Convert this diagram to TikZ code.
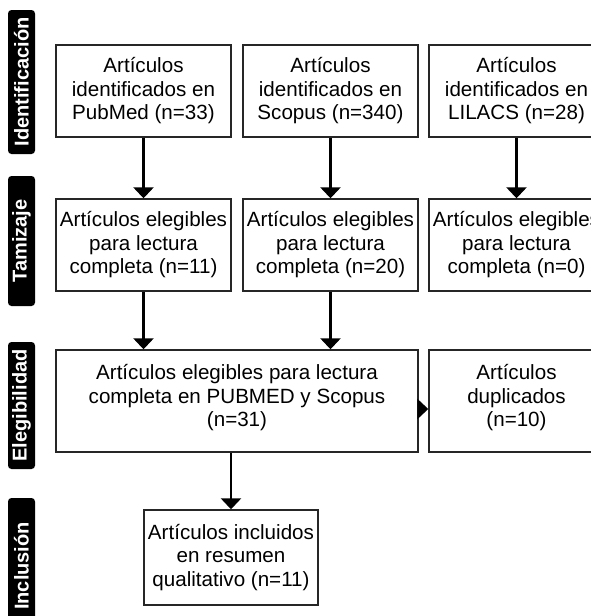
\documentclass[tikz,border=0pt]{standalone}
\usepackage{fontspec}
\setmainfont{Liberation Sans}
\usetikzlibrary{arrows.meta}
\begin{document}
\begin{tikzpicture}[x=1pt,y=-1pt,
  box/.style={draw=black!85, line width=1.4pt, align=center, inner sep=0pt,
    font=\fontsize{20.6}{23.5}\selectfont, minimum width=175pt, minimum height=92pt},
  phase/.style={fill=black, rounded corners=3.5pt, rotate=90, text=white,
    font=\bfseries\fontsize{20}{24}\selectfont, minimum height=27pt, inner sep=0pt},
  arr/.style={line width=2.6pt, -{Triangle[length=11pt,width=20pt]}}]
\path[use as bounding box,clip] (0,0) rectangle (591,616);
\fill[white] (0,0) rectangle (591,616);
% phase labels
\node[phase, minimum width=144pt] (p1) at (21.5,82) {Identificación};
\node[phase, minimum width=130pt] (p2) at (21.5,241) {Tamizaje};
\node[phase, minimum width=127pt] (p3) at (21.5,405.5) {Elegibilidad};
\node[phase, minimum width=136pt] (p4) at (21.5,566) {Inclusión};
% identification
\node[box] (pub) at (143.5,91) {Artículos\\identificados en\\PubMed (n=33)};
\node[box] (sco) at (330.5,91) {Artículos\\identificados en\\Scopus (n=340)};
\node[box] (lil) at (516.5,91) {Artículos\\identificados en\\LILACS (n=28)};
% screening
\node[box] (pub2) at (143.5,245) {Artículos elegibles\\para lectura\\completa (n=11)};
\node[box] (sco2) at (330.5,245) {Artículos elegibles\\para lectura\\completa (n=20)};
\node[box] (lil2) at (516.5,245) {Artículos elegibles\\para lectura\\completa (n=0)};
% eligibility
\node[box, minimum width=362pt, minimum height=102pt] (eleg) at (237,401)
  {Artículos elegibles para lectura\\completa en PUBMED y Scopus\\(n=31)\\[-13pt]\mbox{}};
\node[box, minimum height=102pt] (dup) at (516.5,401)
  {Artículos\\duplicados\\(n=10)\\[-13pt]\mbox{}};
% inclusion
\node[box, minimum width=174pt, minimum height=95pt] (inc) at (231,557.5)
  {Artículos incluidos\\en resumen\\qualitativo (n=11)};
% arrows
\draw[arr] (pub) -- (pub2);
\draw[arr] (sco) -- (sco2);
\draw[arr] (lil) -- (lil2);
\draw[arr] (pub2) -- (pub2.south |- eleg.north);
\draw[arr] (sco2) -- (sco2.south |- eleg.north);
\draw[arr] (inc.north |- eleg.south) -- (inc);
\draw[arr] ([yshift=-8pt]eleg.east) -- ([yshift=-8pt]dup.west);
\end{tikzpicture}
\end{document}
